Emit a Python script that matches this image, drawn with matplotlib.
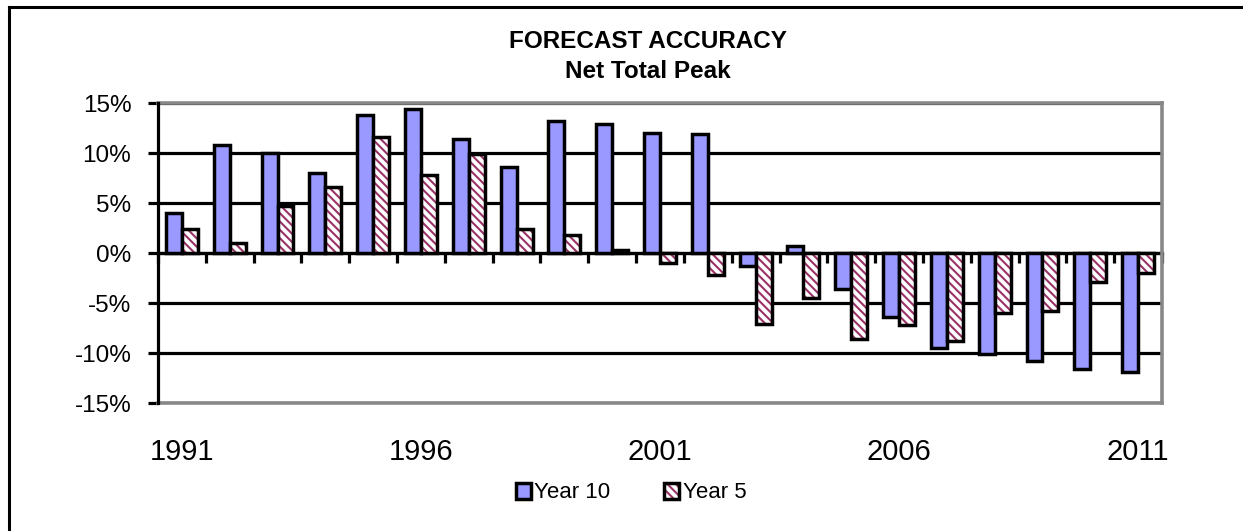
import matplotlib
matplotlib.use("Agg")
import matplotlib.pyplot as plt
from matplotlib.patches import Patch
from matplotlib.lines import Line2D
from matplotlib.legend_handler import HandlerTuple
import numpy as np

plt.rcParams['font.family'] = ['Liberation Sans', 'DejaVu Sans']
plt.rcParams['hatch.linewidth'] = 1.5

years = list(range(1991, 2012))
year10 = [4.0, 10.8, 10.0, 8.0, 13.8, 14.4, 11.4, 8.6, 13.2, 12.9, 12.0, 11.9,
          -1.3, 0.7, -3.6, -6.4, -9.5, -10.1, -10.8, -11.6, -11.9]
year5 = [2.4, 1.0, 4.7, 6.6, 11.6, 7.8, 9.9, 2.4, 1.8, 0.3, -1.0, -2.2,
         -7.1, -4.5, -8.6, -7.2, -8.8, -6.0, -5.8, -2.9, -2.0]
label_years = [1991, 1996, 2001, 2006, 2011]

blue = '#9999ff'
wine = '#993366'
grey = '#888888'

W, H = 1243, 531
fig = plt.figure(figsize=(W / 100, H / 100), dpi=100)
ax = fig.add_axes([158 / W, 1 - 403 / H, 1004 / W, 300 / H])

x = np.arange(len(years))
w = 1 / 3
ax.bar(x - w / 2, year10, w, color=blue, edgecolor='black', linewidth=2.5, zorder=2)
# hatched bars: hatch in wine colour, outline drawn separately in black
ax.bar(x + w / 2, year5, w, color='white', edgecolor=wine, hatch='\\\\\\\\',
       linewidth=0, zorder=2)
ax.bar(x + w / 2, year5, w, fill=False, edgecolor='black', linewidth=2.5, zorder=2)

ax.set_xlim(-0.5, len(years) - 0.5)
ax.set_ylim(-15, 15)
ax.set_yticks(range(-15, 16, 5))
ax.set_yticklabels(['{}%'.format(v) for v in range(-15, 16, 5)], fontsize=17.5)
ax.tick_params(axis='y', direction='out', length=7.2, width=2.3, pad=12)
ax.set_xticks([years.index(y) for y in label_years])
ax.set_xticklabels([str(y) for y in label_years], fontsize=21)
ax.tick_params(axis='x', length=0, pad=25)

ax.set_axisbelow(True)
ax.yaxis.grid(True, color='black', linewidth=2.3)

for s in ['top', 'right', 'bottom']:
    ax.spines[s].set_color(grey)
    ax.spines[s].set_linewidth(2.6)
    ax.spines[s].set_zorder(3)
ax.spines['left'].set_linewidth(2.3)
ax.spines['left'].set_zorder(4)

# category axis crossing at zero with ticks between the categories
sec = ax.secondary_xaxis(0.5)
sec.set_alignment('bottom')
sec.set_xticks(np.arange(-0.5, len(years), 1.0))
sec.tick_params(axis='x', direction='out', length=7.2, width=2.3, labelbottom=False)
sec.spines['bottom'].set_linewidth(2.3)

fig.text(648 / W, 1 - 42 / H, 'FORECAST ACCURACY', ha='center', va='center',
         fontsize=17.5, fontweight='bold')
fig.text(648 / W, 1 - 72 / H, 'Net Total Peak', ha='center', va='center',
         fontsize=17.5, fontweight='bold')

h10 = Patch(facecolor=blue, edgecolor='black', linewidth=2.5)
h5a = Patch(facecolor='white', edgecolor=wine, hatch='\\\\\\\\', linewidth=0)
h5b = Patch(fill=False, edgecolor='black', linewidth=2.5)
fig.legend([h10, (h5a, h5b)], ['Year 10', 'Year 5'], loc='center',
           bbox_to_anchor=(631 / W, 1 - 493 / H), ncol=2, frameon=False,
           fontsize=16, handlelength=0.7, handleheight=0.7, handletextpad=0.15,
           columnspacing=2.4, handler_map={tuple: HandlerTuple(ndivide=1)})

# outer chart border (left and top visible)
fig.add_artist(Line2D([9 / W, 9 / W], [0, 1 - 7 / H], color='black', linewidth=2.2,
                      transform=fig.transFigure))
fig.add_artist(Line2D([9 / W, 1], [1 - 7 / H, 1 - 7 / H], color='black', linewidth=2.2,
                      transform=fig.transFigure))

fig.savefig('out.png', dpi=100)
